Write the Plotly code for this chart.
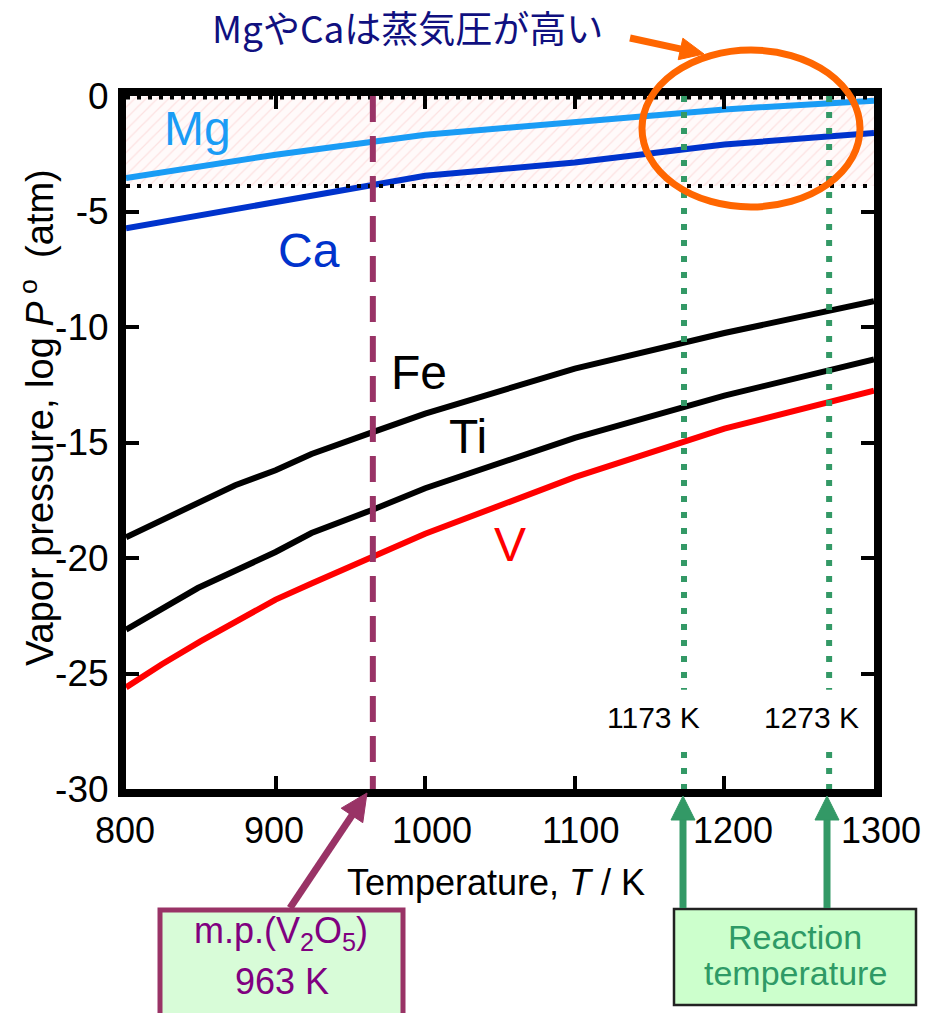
import math
import plotly.graph_objects as go

# ---------------- data ----------------
T_mg = [800, 900, 1000, 1100, 1200, 1300]
logp_mg = [-3.55, -2.54, -1.68, -1.15, -0.58, -0.2]

T_ca = [800, 900, 1000, 1100, 1200, 1300]
logp_ca = [-5.73, -4.57, -3.45, -2.88, -2.1, -1.6]

T_fe = [800, 873, 900, 924, 964, 1000, 1100, 1200, 1300]
logp_fe = [-19.1, -16.85, -16.2, -15.5, -14.57, -13.75, -11.8, -10.26, -8.88]

T_ti = [800, 848, 900, 924, 964, 1000, 1100, 1200, 1300]
logp_ti = [-23.1, -21.3, -19.74, -18.92, -17.93, -16.98, -14.8, -12.97, -11.4]

T_v = [800, 824, 850, 900, 924, 964, 1000, 1100, 1200, 1300]
logp_v = [-25.6, -24.6, -23.6, -21.8, -21.1, -19.96, -18.95, -16.5, -14.4, -12.76]

high_vp_band = [0.0, -3.9]          # hatched region (log P)
mp_v2o5 = 965                        # melting point line position
reaction_T = [1173, 1270]            # reaction temperature lines
reaction_labels = ["1173 K", "1273 K"]

x_tickvals = [900, 1000, 1100, 1200]
x_ticklabels = ["800", "900", "1000", "1100", "1200", "1300"]
x_ticklabel_pos = [799.5, 899, 1004.5, 1104, 1205.5, 1305]
y_tickvals = [0, -5, -10, -15, -20, -25, -30]
y_ticklabels = ["0", "-5", "-10", "-15", "-20", "-25", "-30"]

# ---------------- layout geometry ----------------
W, H = 944, 1013
ML, MR, MT, MB = 126, 70, 96, 224
PW, PH = W - ML - MR, H - MT - MB
X0, X1 = 800, 1300


def px_x(px):
    return (px - ML) / PW


def px_y(py):
    return (H - MB - py) / PH


def t_to_paper(t):
    return (t - X0) / (X1 - X0)


FONT = "Arial, Liberation Sans, sans-serif"
PURPLE = "#993366"
GREEN = "#339966"
ORANGE = "#ff6600"

fig = go.Figure()

# hatched band
fig.add_trace(go.Scatter(
    x=[800, 1300, 1300, 800, 800],
    y=[high_vp_band[0], high_vp_band[0], high_vp_band[1], high_vp_band[1], high_vp_band[0]],
    mode="lines", fill="toself", line=dict(width=0),
    fillcolor="rgba(0,0,0,0)",
    fillpattern=dict(shape="/", fgcolor="#fac8c8", bgcolor="#fffafa", size=8, solidity=0.15),
    hoverinfo="skip", showlegend=False))

curves = [
    (T_mg, logp_mg, "#1a9cf5"),
    (T_ca, logp_ca, "#0033cc"),
    (T_fe, logp_fe, "#000000"),
    (T_ti, logp_ti, "#000000"),
    (T_v, logp_v, "#ff0000"),
]
for xs, ys, c in curves:
    fig.add_trace(go.Scatter(x=xs, y=ys, mode="lines", line=dict(color=c, width=6),
                             hoverinfo="skip", showlegend=False))

# dotted black horizontal lines
for yv in [high_vp_band[0] - 0.06, high_vp_band[1]]:
    fig.add_trace(go.Scatter(x=[800, 1300], y=[yv, yv], mode="lines",
                             line=dict(color="black", width=4, dash="4px,7px"),
                             hoverinfo="skip", showlegend=False))

# melting point dashed line
fig.add_trace(go.Scatter(x=[mp_v2o5, mp_v2o5], y=[0, -30], mode="lines",
                         line=dict(color=PURPLE, width=6, dash="26px,14px"),
                         hoverinfo="skip", showlegend=False))

# reaction temperature dotted lines (with gap for labels)
for t in reaction_T:
    fig.add_trace(go.Scatter(x=[t, t, None, t, t], y=[0, -25.7, None, -28.4, -30], mode="lines",
                             line=dict(color=GREEN, width=6, dash="6px,10px"),
                             hoverinfo="skip", showlegend=False))

ann = []
# curve labels
for txt, x, y, c in [("Mg", 848, -1.39, "#1a9cf5"), ("Ca", 922, -6.67, "#0033cc"),
                     ("Fe", 996, -11.99, "black"), ("Ti", 1028.6, -14.72, "black"),
                     ("V", 1056.7, -19.4, "#ff0000")]:
    ann.append(dict(x=x, y=y, xref="x", yref="y", text=txt, showarrow=False,
                    font=dict(family=FONT, size=48, color=c), xanchor="center", yanchor="middle"))
for t, lab, xpos in zip(reaction_T, reaction_labels, [1152.3, 1257.9]):
    ann.append(dict(x=xpos, y=-26.9, xref="x", yref="y", text=lab, showarrow=False,
                    font=dict(family=FONT, size=30, color="black"), xanchor="center", yanchor="middle"))

# x tick labels
for lab, xpos in zip(x_ticklabels, x_ticklabel_pos):
    ann.append(dict(x=t_to_paper(xpos), y=px_y(830), xref="paper", yref="paper", text=lab, showarrow=False,
                    font=dict(family=FONT, size=36, color="black"), xanchor="center", yanchor="middle"))

# axis titles
ann.append(dict(x=px_x(496), y=px_y(882), xref="paper", yref="paper",
                text="Temperature, <i>T</i> / K", showarrow=False,
                font=dict(family=FONT, size=36, color="black"), xanchor="center", yanchor="middle"))
ann.append(dict(x=px_x(37), y=px_y(418), xref="paper", yref="paper",
                text="Vapor pressure, log <i>P</i><sup> o</sup>  (atm)", showarrow=False, textangle=-90,
                font=dict(family=FONT, size=38, color="black"), xanchor="center", yanchor="middle"))

# top title
ann.append(dict(x=px_x(407), y=px_y(27), xref="paper", yref="paper",
                text="MgやCaは蒸気圧が高い", showarrow=False,
                font=dict(family="Noto Sans CJK JP, sans-serif", size=37, color="#10107f"),
                xanchor="center", yanchor="middle"))

# box texts
ann.append(dict(x=px_x(281), y=px_y(933), xref="paper", yref="paper",
                text="m.p.(V<sub>2</sub>O<sub>5</sub>)", showarrow=False,
                font=dict(family=FONT, size=36, color="#800080"), xanchor="center", yanchor="middle"))
ann.append(dict(x=px_x(282), y=px_y(981), xref="paper", yref="paper", text="963 K", showarrow=False,
                font=dict(family=FONT, size=36, color="#800080"), xanchor="center", yanchor="middle"))
ann.append(dict(x=px_x(795), y=px_y(937), xref="paper", yref="paper", text="Reaction", showarrow=False,
                font=dict(family=FONT, size=34, color="#2e9a66"), xanchor="center", yanchor="middle"))
ann.append(dict(x=px_x(795), y=px_y(973), xref="paper", yref="paper", text="temperature", showarrow=False,
                font=dict(family=FONT, size=34, color="#2e9a66"), xanchor="center", yanchor="middle"))


def arrow_shapes(tail, tip, color, width, head_len, head_half):
    (xa, ya), (xb, yb) = tail, tip
    d = math.hypot(xb - xa, yb - ya)
    ux, uy = (xb - xa) / d, (yb - ya) / d
    bx, by = xb - ux * head_len, yb - uy * head_len
    nx, ny = -uy, ux
    pts = [(xb, yb), (bx + nx * head_half, by + ny * head_half), (bx - nx * head_half, by - ny * head_half)]
    path = "M " + " L ".join(f"{px_x(p[0]):.5f},{px_y(p[1]):.5f}" for p in pts) + " Z"
    return [
        dict(type="line", xref="paper", yref="paper", x0=px_x(xa), y0=px_y(ya),
             x1=px_x(bx + ux * 2), y1=px_y(by + uy * 2), line=dict(color=color, width=width), layer="above"),
        dict(type="path", xref="paper", yref="paper", path=path, fillcolor=color,
             line=dict(color=color, width=1), layer="above"),
    ]


shapes = [
    # orange ellipse
    dict(type="circle", xref="paper", yref="paper", x0=px_x(642), x1=px_x(860), y0=px_y(207), y1=px_y(50),
         line=dict(color=ORANGE, width=7), layer="above"),
    # purple box
    dict(type="rect", xref="paper", yref="paper", x0=px_x(160), x1=px_x(403), y0=px_y(1030), y1=px_y(910),
         line=dict(color=PURPLE, width=5), fillcolor="#d8fcd8", layer="below"),
    # green box
    dict(type="rect", xref="paper", yref="paper", x0=px_x(674), x1=px_x(916), y0=px_y(1005), y1=px_y(909),
         line=dict(color="#222222", width=2.5), fillcolor="#ccffcc", layer="below"),
]
shapes += arrow_shapes((630, 38), (704, 54), ORANGE, 7, 24, 11)
shapes += arrow_shapes((290, 908), (367, 793), PURPLE, 7, 27, 13)
for xp in [683, 827]:
    shapes += arrow_shapes((xp, 908), (xp, 796), GREEN, 7, 24, 12)

fig.update_layout(
    width=W, height=H, margin=dict(l=ML, r=MR, t=MT, b=MB),
    paper_bgcolor="white", plot_bgcolor="white",
    annotations=ann, shapes=shapes, showlegend=False,
    xaxis=dict(range=[X0, X1], tickvals=x_tickvals, showticklabels=False,
               ticks="inside", ticklen=13, tickwidth=4, tickcolor="black",
               showline=True, linewidth=8, linecolor="black", mirror="allticks",
               showgrid=False, zeroline=False, fixedrange=True),
    yaxis=dict(range=[-30, 0], tickvals=y_tickvals, ticktext=y_ticklabels,
               ticks="inside", ticklen=13, tickwidth=4, tickcolor="black",
               tickfont=dict(family=FONT, size=37, color="black"), ticklabelstandoff=2,
               showline=True, linewidth=8, linecolor="black", mirror="allticks",
               showgrid=False, zeroline=False, fixedrange=True),
)

fig.write_html("out.html")
